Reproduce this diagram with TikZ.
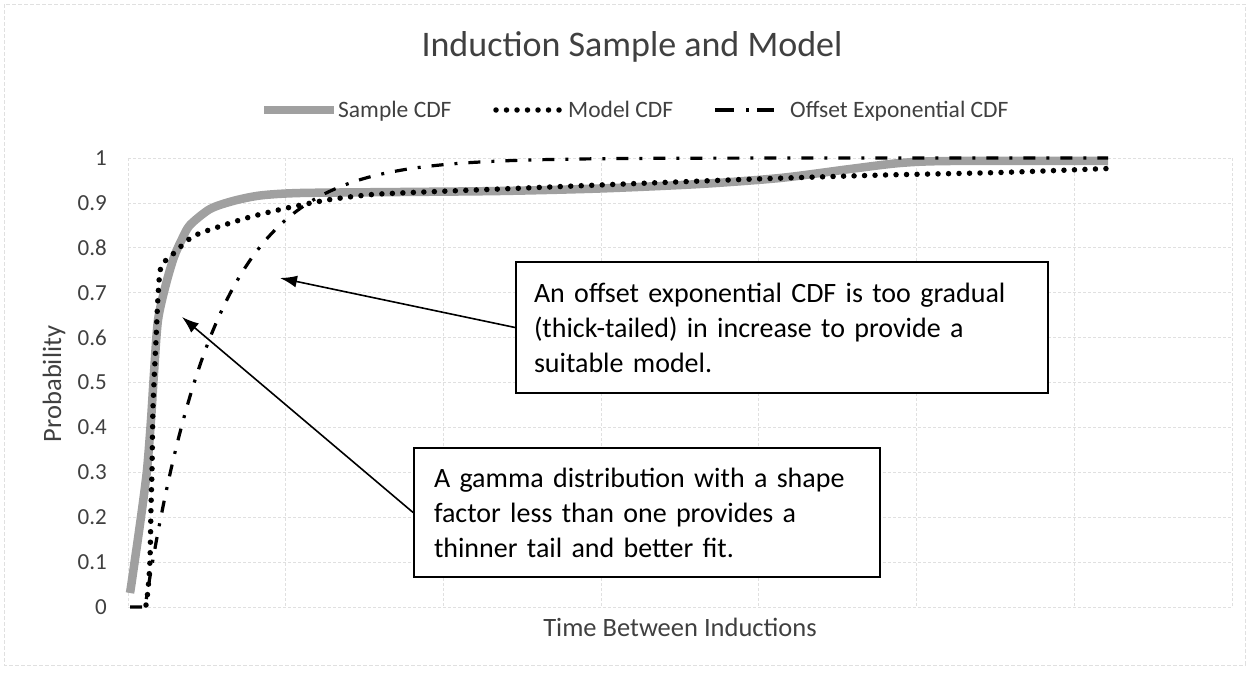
\documentclass[tikz,border=0pt]{standalone}
\usepackage{fontspec}
\setmainfont{Carlito}
\usetikzlibrary{arrows.meta}
\definecolor{samplegray}{RGB}{160,160,160}
\definecolor{gridgray}{RGB}{224,224,224}
\definecolor{labelgray}{RGB}{64,64,64}

\begin{document}
\begin{tikzpicture}[x=1pt,y=-1pt,
  grid line/.style={draw=gridgray, line width=0.8pt, dash pattern=on 3pt off 2pt},
  sample curve/.style={draw=samplegray, line width=8.5pt, line join=round},
  model curve/.style={draw=black, line width=5.5pt, line cap=round, dash pattern=on 0pt off 10.5pt},
  expo curve/.style={draw=black, line width=3.2pt, dash pattern=on 12pt off 11pt on 3pt off 11pt},
  tick label/.style={font=\fontsize{23}{27}\selectfont, text=labelgray, anchor=east, inner sep=0pt},
  legend text/.style={font=\fontsize{23.5}{27}\selectfont, text=labelgray, anchor=base west, inner sep=0pt},
  axis title/.style={font=\fontsize{26.5}{30}\selectfont, text=labelgray, inner sep=0pt},
  note/.style={draw=black, line width=1.8pt, fill=white, align=left,
    font=\fontsize{28}{35}\selectfont, inner ysep=0pt},
  pointer/.style={draw=black, line width=1.6pt, -{Latex[length=17pt,width=12pt]}}
]
\useasboundingbox (0,0) rectangle (1249,672);

% chart frame
\draw[draw=gridgray, line width=1pt, dash pattern=on 4pt off 2pt] (4,4) rectangle (1245,665);

% grid
\foreach \k in {0,...,10}
  \draw[grid line] (128,{607-44.9*\k}) -- (1232,{607-44.9*\k});
\foreach \k in {0,...,7}
  \draw[grid line] ({128+157.7*\k},158) -- ({128+157.7*\k},607);

% title
\node[font=\fontsize{36}{43}\selectfont, text=labelgray, inner sep=0pt] (title) at (632,47) {Induction Sample and Model};

% legend
\draw[sample curve] (264,110) -- (334,110);
\node[legend text] (legsample) at (338,117) {Sample CDF};
\draw[model curve] (496,110) -- (560,110);
\node[legend text] (legmodel) at (568,117) {Model CDF};
\draw[expo curve, dash pattern=on 19pt off 12pt on 3pt off 8pt on 17pt off 40pt] (715,110) -- (774,110);
\node[legend text] (legexpo) at (790,117) {Offset Exponential CDF};

% y tick labels
\foreach \k/\lab in {0/0,1/0.1,2/0.2,3/0.3,4/0.4,5/0.5,6/0.6,7/0.7,8/0.8,9/0.9,10/1}
  \node[tick label] (ytick\k) at (107,{607-44.9*\k}) {\lab};

% axis titles
\node[axis title] (xtitle) at (680,627) {Time Between Inductions};
\node[axis title, rotate=90] (ytitle) at (54,384) {Probability};

% sample CDF
\draw[sample curve] plot[smooth, tension=0.45] coordinates {
  (130,593) (132,580) (141,517) (147,470) (151,420) (154,373) (158,320)
  (166,284) (174,257) (182,239) (190,225) (210,209) (233,201) (260,195.5)
  (300,193) (400,192) (500,191) (600,188.5) (700,184) (780,178) (850,169)
  (900,163) (950,161) (1108,161)};

% offset exponential CDF
\draw[expo curve] (130,607) -- (145,607)
  -- plot[domain=145:1108, samples=260] (\x,{607-449*(1-exp(-(\x-145)/71))});

% model CDF
\draw[model curve] plot[smooth, tension=0.45] coordinates {
  (146,605) (148,590) (150,560) (151,507) (152,470) (153,407) (156,340)
  (158,297) (161,267) (172,255) (192,237) (215,228) (250,217) (287,208)
  (327,200) (367,195) (400,193) (500,189) (650,183) (770,178.5) (885,175)
  (1000,172.5) (1108,168.5)};

% notes
\node[note, text width=496pt, inner xsep=18pt, minimum width=532pt, minimum height=131pt]
  (offsetnote) at (782,327.5)
  {An offset exponential CDF is too gradual\\(thick-tailed) in increase to provide a\\suitable model.};
\node[note, text width=426pt, inner xsep=20pt, minimum width=466pt, minimum height=129pt]
  (gammanote) at (647,512.5)
  {A gamma distribution with a shape\\factor less than one provides a\\thinner tail and better fit.};

% pointers
\coordinate (expotip) at (280,278);
\coordinate (gammatip) at (182,317);
\draw[pointer] (offsetnote.west) -- (expotip);
\draw[pointer] (gammanote.west) -- (gammatip);
\end{tikzpicture}
\end{document}
